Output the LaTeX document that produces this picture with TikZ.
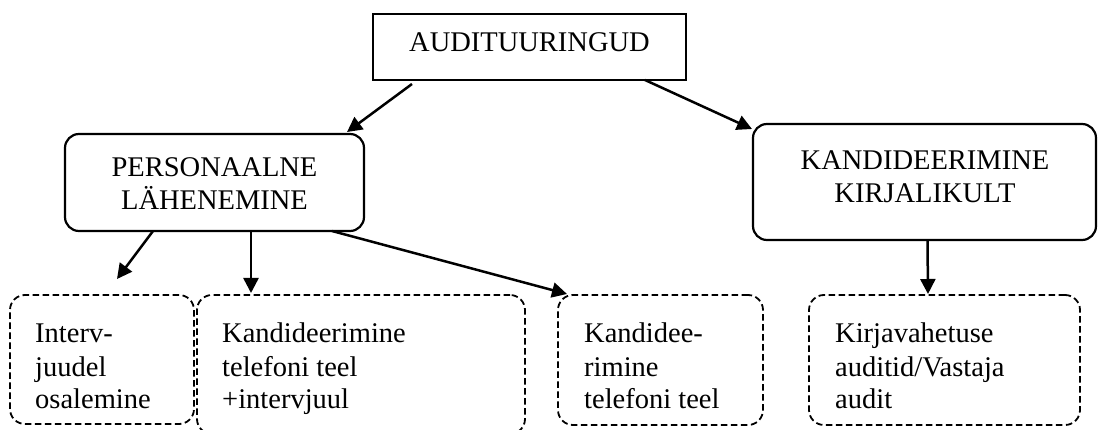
\documentclass[tikz,border=0pt]{standalone}
\usepackage{fontspec}
\setmainfont{Liberation Serif}
\usetikzlibrary{arrows.meta}
\begin{document}
\begin{tikzpicture}[x=1pt,y=-1pt,
  box/.style={draw, line width=2.2pt, inner sep=0pt, outer sep=0pt, anchor=north west},
  roundbox/.style={box, rounded corners=14pt},
  dashbox/.style={draw, line width=1.8pt, dash pattern=on 6.5pt off 3.5pt,
    rounded corners=15pt, inner sep=0pt, outer sep=0pt, anchor=north west},
  txt/.style={inner sep=0pt, font=\fontsize{28.5pt}{33pt}\selectfont},
  link/.style={line width=2.5pt, -{Triangle[length=15pt,width=15pt]}}
]
\useasboundingbox (0,0) rectangle (1098,430);
\clip (0,0) rectangle (1098,430);

% main boxes
\node[box, minimum width=313pt, minimum height=66pt] (top) at (373,14) {};
\node[txt, anchor=base] (toptext) at (529.5,52) {AUDITUURINGUD};

\node[roundbox, minimum width=299pt, minimum height=97pt] (pers) at (65,134) {};
\node[txt, anchor=base] (perstext) at (214.5,177)
  {\begin{tabular}[t]{@{}c@{}}PERSONAALNE\\LÄHENEMINE\end{tabular}};

\node[roundbox, minimum width=343pt, minimum height=116pt] (kand) at (753,124) {};
\node[txt, anchor=base] (kandtext) at (925,170)
  {\begin{tabular}[t]{@{}c@{}}KANDIDEERIMINE\\KIRJALIKULT\end{tabular}};

% dashed boxes in the bottom row
\node[dashbox, minimum width=184pt, minimum height=129pt] (b1) at (10,295) {};
\node[txt, anchor=base west] (b1text) at (35,343)
  {\begin{tabular}[t]{@{}l@{}}Interv-\\juudel\\osalemine\end{tabular}};

\node[dashbox, minimum width=328pt, minimum height=139pt] (b2) at (197,295) {};
\node[txt, anchor=base west] (b2text) at (222,343)
  {\begin{tabular}[t]{@{}l@{}}Kandideerimine\\telefoni teel\\+intervjuul\end{tabular}};

\node[dashbox, minimum width=205pt, minimum height=130pt] (b3) at (558,295) {};
\node[txt, anchor=base west] (b3text) at (584,343)
  {\begin{tabular}[t]{@{}l@{}}Kandidee-\\rimine\\telefoni teel\end{tabular}};

\node[dashbox, minimum width=271pt, minimum height=130pt] (b4) at (809,295) {};
\node[txt, anchor=base west] (b4text) at (835,343)
  {\begin{tabular}[t]{@{}l@{}}Kirjavahetuse\\auditid/Vastaja\\audit\end{tabular}};

% connectors
\draw[link] ([xshift=39pt,yshift=-4pt]top.south west) -- ([xshift=-17pt,yshift=2pt]pers.north east);
\draw[link] ([xshift=-41pt]top.south east) -- ([xshift=-1pt,yshift=-5pt]kand.north west);
\draw[link] ([xshift=88pt]pers.south west) -- ([xshift=107pt,yshift=16pt]b1.north west);
\draw[link] ([xshift=186pt]pers.south west) -- ([xshift=54pt,yshift=2pt]b2.north west);
\draw[link] ([xshift=267pt]pers.south west) -- ([xshift=9pt,yshift=1pt]b3.north west);
\draw[link] ([xshift=3pt]kand.south) -- ([xshift=119pt,yshift=1pt]b4.north west);
\end{tikzpicture}
\end{document}
